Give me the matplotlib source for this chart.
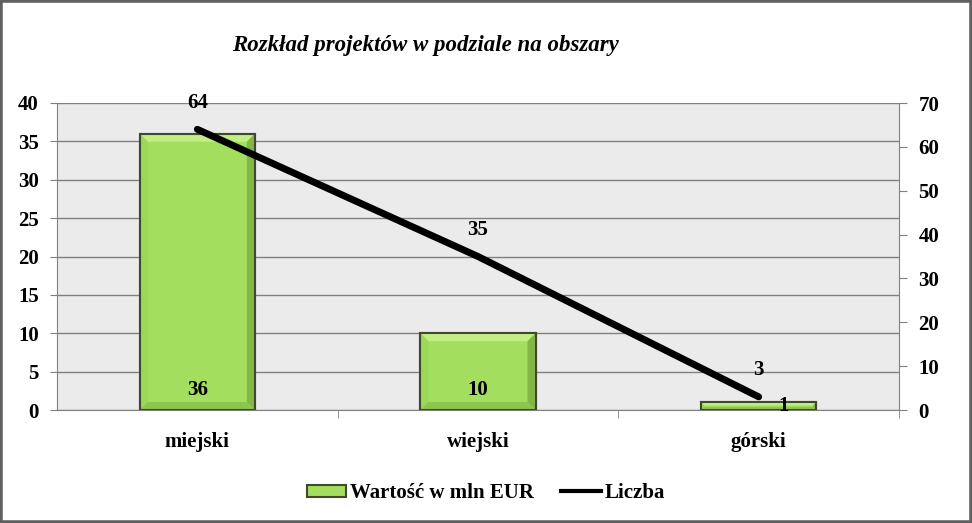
import matplotlib
matplotlib.use("Agg")
import matplotlib.pyplot as plt
from matplotlib.patches import Polygon, Rectangle, Patch
from matplotlib.lines import Line2D
from matplotlib.transforms import IdentityTransform
import numpy as np

categories = ["miejski", "wiejski", "górski"]
values_eur = [36, 10, 1]
counts = [64, 35, 3]
left_ticks = [0, 5, 10, 15, 20, 25, 30, 35, 40]
right_ticks = [0, 10, 20, 30, 40, 50, 60, 70]
title = "Rozkład projektów w podziale na obszary"
legend_bar = "Wartość w mln EUR"
legend_line = "Liczba"

plt.rcParams['font.family'] = ['Liberation Serif', 'DejaVu Serif']

FS = 15
W, H = 972, 523
fig = plt.figure(figsize=(W/100, H/100), dpi=100)
fig.patch.set_facecolor("white")

ax = fig.add_axes([57/W, 1-410/H, (899-57)/W, (410-103)/H])
ax.set_facecolor("#EBEBEB")
x = np.arange(len(categories))
ax.set_xlim(-0.5, len(categories)-0.5)
ax.set_ylim(0, 40)
ax.set_yticks(left_ticks)
ax.grid(axis='y', color='#808080', linewidth=1)
ax.set_axisbelow(True)
for s in ['top', 'right']:
    ax.spines[s].set_visible(False)
ax.spines['left'].set_color('#808080')
ax.spines['bottom'].set_color('#808080')
ax.tick_params(axis='y', direction='out', length=5, color='#808080', pad=8,
               labelsize=FS)
ax.set_xticks(x)
ax.set_xticklabels(categories)
ax.tick_params(axis='x', which='major', length=0, pad=16, labelsize=FS)
ax.set_xticks([0.5, 1.5, 2.5], minor=True)
ax.tick_params(axis='x', which='minor', length=6, color='#808080', direction='out')
for lab in ax.get_xticklabels() + ax.get_yticklabels():
    lab.set_fontweight('bold')

bars = ax.bar(x, values_eur, width=0.41, color='#A3DE5E', edgecolor='#3F4A2C',
              linewidth=1.5, zorder=3)

# bevel effect
fig.canvas.draw()
ident = IdentityTransform()
for b in bars:
    bb = b.get_window_extent()
    x0, y0, x1, y1 = bb.x0, bb.y0, bb.x1, bb.y1
    bw = min(8, (y1 - y0) / 2.5)
    polys = [
        ([[x0, y1], [x1, y1], [x1-bw, y1-bw], [x0+bw, y1-bw]], '#C2EE84'),
        ([[x1, y1], [x1, y0], [x1-bw, y0+bw], [x1-bw, y1-bw]], '#82B646'),
        ([[x0, y1], [x0, y0], [x0+bw, y0+bw], [x0+bw, y1-bw]], '#9CD858'),
        ([[x0, y0], [x1, y0], [x1-bw, y0+bw], [x0+bw, y0+bw]], '#8DC64F'),
    ]
    for pts, col in polys:
        p = Polygon(pts, closed=True, transform=ident, facecolor=col,
                    edgecolor='none', zorder=4)
        ax.add_artist(p)
    edge = Rectangle((x0, y0), x1-x0, y1-y0, transform=ident, facecolor='none',
                     edgecolor='#3F4A2C', linewidth=1.5, zorder=5)
    ax.add_artist(edge)

for xi, v, b in zip(x, values_eur, bars):
    bb = b.get_window_extent()
    if bb.height > 30:
        ax.annotate(str(v), (xi, 0), xytext=(0, 14.5), textcoords='offset points',
                    ha='center', va='center', fontsize=FS, fontweight='bold', zorder=6)
    else:
        ax.annotate(str(v), (xi, v/2), xytext=(18, 0), textcoords='offset points',
                    ha='center', va='center', fontsize=FS, fontweight='bold', zorder=6)

ax2 = ax.twinx()
ax2.set_ylim(0, 70)
ax2.set_yticks(right_ticks)
for s in ['top', 'left', 'bottom']:
    ax2.spines[s].set_visible(False)
ax2.spines['right'].set_color('#808080')
ax2.tick_params(axis='y', direction='out', length=6, color='#808080', pad=8, labelsize=FS)
for lab in ax2.get_yticklabels():
    lab.set_fontweight('bold')
ax2.plot(x, counts, color='black', linewidth=5, solid_capstyle='round', zorder=6)
for xi, c in zip(x, counts):
    ax2.annotate(str(c), (xi, c), xytext=(0, 19), textcoords='offset points',
                 ha='center', va='center', fontsize=FS, fontweight='bold')

fig.text(425/W, 1-46/H, title, ha='center', va='center', fontsize=16.5,
         fontweight='bold', fontstyle='italic')

handles = [Patch(facecolor='#A3DE5E', edgecolor='#3F4A2C', linewidth=1.5),
           Line2D([0], [0], color='black', linewidth=3)]
fig.legend(handles, [legend_bar, legend_line], loc='center', bbox_to_anchor=(486/W, 1-493/H),
           ncol=2, frameon=False, prop={'weight': 'bold', 'size': FS},
           handlelength=1.9, handleheight=0.5, handletextpad=0.2, columnspacing=1.3)

# outer border
fig.add_artist(Rectangle((0, 0), 1, 1, transform=fig.transFigure, facecolor='none',
                         edgecolor='#606060', linewidth=4, zorder=10))

fig.savefig("out.png", dpi=100)
